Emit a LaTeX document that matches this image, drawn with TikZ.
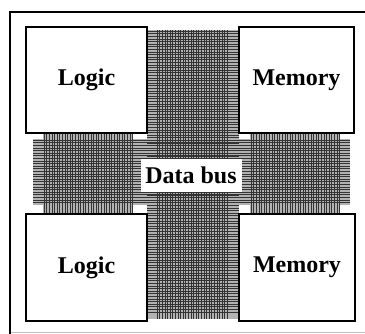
\documentclass[tikz,border=0pt]{standalone}
\usepackage{fontspec}
\setmainfont{Liberation Serif}
\begin{document}
\begin{tikzpicture}[x=1pt,y=-1pt,
  blockbox/.style={draw=black,line width=1.8pt,fill=white,inner sep=0pt},
  lbl/.style={font=\bfseries\fontsize{24}{24}\selectfont},
  hbg/.style={fill=black!30},
  hline/.style={draw=black!80,line width=0.45pt},
  busbox/.style={fill=white,inner sep=0pt,minimum width=101pt,minimum height=33pt,font=\bfseries\fontsize{24}{24}\selectfont}]
\useasboundingbox (0,0) rectangle (365,334);
\clip (0,0) rectangle (365,334);
\fill[white] (0,0) rectangle (365,334);
% outer frame
\draw[black!25,line width=1pt] (10,332.5) -- (370,332.5);
\draw[black,line width=2pt] (10,340) -- (10,12) -- (370,12);
% gray backgrounds of hatched areas
\fill[hbg] (147,30) rectangle (239,319);
\fill[hbg] (33,139) rectangle (350,205);
\fill[hbg] (43,133) rectangle (133,213);
\fill[hbg] (250,133) rectangle (340,213);
% horizontal lines: vertical arm and horizontal arm
\foreach \yy in {31,33.6,...,313}{\draw[hline] (147,\yy) -- (239,\yy);}
\foreach \yy in {140,142.6,...,205}{\draw[hline] (33,\yy) -- (350,\yy);}
% vertical lines
\foreach \xx in {157,159.6,...,229}{\draw[hline] (\xx,30) -- (\xx,319);}
\foreach \xx in {44,46.6,...,133}{\draw[hline] (\xx,133) -- (\xx,213);}
\foreach \xx in {251,253.6,...,340}{\draw[hline] (\xx,133) -- (\xx,213);}
% blocks
\node[blockbox,minimum width=121pt,minimum height=106pt] (logic1) at (86.5,80) {};
\node[blockbox,minimum width=115pt,minimum height=106pt] (mem1) at (296.5,80) {};
\node[blockbox,minimum width=121pt,minimum height=107pt] (logic2) at (86.5,267.5) {};
\node[blockbox,minimum width=116pt,minimum height=107pt] (mem2) at (297,267.5) {};
\node[lbl] (tlogic1) at (logic1) {Logic};
\node[lbl] (tmem1) at (mem1) {Memory};
\node[lbl] (tlogic2) at (logic2) {Logic};
\node[lbl] (tmem2) at (mem2) {Memory};
\node[busbox] (bus) at (191,175.5) {Data bus};
\end{tikzpicture}
\end{document}
